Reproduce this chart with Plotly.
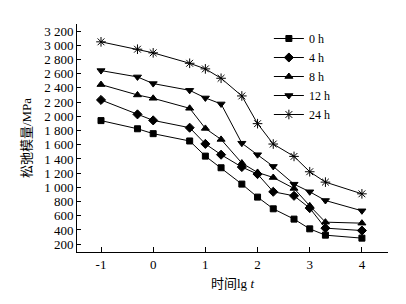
import plotly.graph_objects as go

lg_t = [-1, -0.301, 0, 0.699, 1, 1.301, 1.699, 2, 2.301, 2.699, 3, 3.301, 4]
series_names = ["0 h", "4 h", "8 h", "12 h", "24 h"]
y_0h = [1940, 1825, 1756, 1653, 1440, 1276, 1046, 863, 698, 553, 416, 327, 285]
y_4h = [2231, 2028, 1943, 1840, 1612, 1460, 1286, 1187, 938, 881, 708, 426, 392]
y_8h = [2447, 2301, 2254, 2113, 1830, 1675, 1342, 1210, 1139, 985, 740, 510, 496]
y_12h = [2644, 2555, 2461, 2366, 2259, 2175, 1622, 1460, 1295, 1045, 938, 815, 670]
y_24h = [3049, 2945, 2894, 2747, 2668, 2536, 2287, 1897, 1610, 1436, 1220, 1074, 909]
y_ticks = [200, 400, 600, 800, 1000, 1200, 1400, 1600, 1800, 2000, 2200, 2400, 2600, 2800, 3000, 3200]
y_tick_text = ["200", "400", "600", "800", "1 000", "1 200", "1 400", "1 600", "1 800",
               "2 000", "2 200", "2 400", "2 600", "2 800", "3 000", "3 200"]
x_ticks = [-1, 0, 1, 2, 3, 4]

all_y = [y_0h, y_4h, y_8h, y_12h, y_24h]
symbols = ["square", "diamond", "triangle-up", "triangle-down", "asterisk-open"]
sizes = [6, 7, 7, 7, 8]

fig = go.Figure()
for name, ys, sym, sz in zip(series_names, all_y, symbols, sizes):
    fig.add_trace(go.Scatter(
        x=lg_t, y=ys, name=name, mode="lines+markers",
        line=dict(color="black", width=1),
        marker=dict(symbol=sym, size=sz, color="black",
                    line=dict(color="black", width=1)),
    ))

font_family = "Liberation Serif, Times New Roman, Noto Sans CJK SC, serif"
fig.update_layout(
    width=406, height=304,
    margin=dict(l=69, r=26, t=16, b=60),
    paper_bgcolor="white", plot_bgcolor="white",
    font=dict(family=font_family, size=13, color="black"),
    showlegend=True,
    legend=dict(x=0.617, y=1.0, xanchor="left", yanchor="top",
                bgcolor="rgba(0,0,0,0)", font=dict(size=12),
                itemwidth=30, tracegroupgap=0),
    xaxis=dict(range=[-1.46, 4.5], tickvals=x_ticks, ticktext=[str(v) for v in x_ticks],
               showline=True, linecolor="black", linewidth=1, ticks="inside",
               ticklen=5, tickcolor="black", showgrid=False, zeroline=False,
               automargin=False,
               title=dict(text="时间lg <i>t</i>", standoff=8, font=dict(size=13))),
    yaxis=dict(range=[90, 3300], tickvals=y_ticks, ticktext=y_tick_text,
               showline=True, linecolor="black", linewidth=1, ticks="inside",
               ticklen=4, tickcolor="black", showgrid=False, zeroline=False,
               automargin=False,
               title=dict(text="松弛模量/MPa", standoff=9, font=dict(size=13))),
)
fig.write_html("out.html")
